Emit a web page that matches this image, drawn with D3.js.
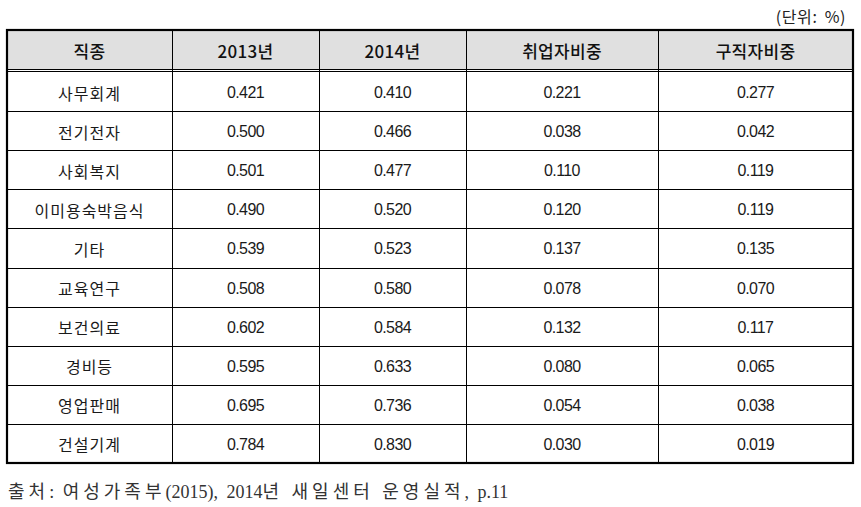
<!DOCTYPE html>
<html><head><meta charset="utf-8">
<script src="https://cdn.jsdelivr.net/npm/d3@7"></script>
<style>
body{margin:0;background:#fff;}
svg{display:block;}
</style></head>
<body>
<svg id="c" width="861" height="507"></svg>
<script>
const headers = ["직종", "2013년", "2014년", "취업자비중", "구직자비중"];
const categories = ["사무회계","전기전자","사회복지","이미용숙박음식","기타","교육연구","보건의료","경비등","영업판매","건설기계"];
const v2013 = ["0.421","0.500","0.501","0.490","0.539","0.508","0.602","0.595","0.695","0.784"];
const v2014 = ["0.410","0.466","0.477","0.520","0.523","0.580","0.584","0.633","0.736","0.830"];
const empShare = ["0.221","0.038","0.110","0.120","0.137","0.078","0.132","0.080","0.054","0.030"];
const seekShare = ["0.277","0.042","0.119","0.119","0.135","0.070","0.117","0.065","0.038","0.019"];
const unitLabel = "(단위: %)";
const sourceNote = "출처: 여성가족부(2015), 2014년 새일센터 운영실적, p.11";

const svg = d3.select("#c");
const colEdges = [7, 172, 319, 466, 658, 853];
const tableTop = 30, headBottom = 71, tableBottom = 463;
const sansKR = "'Noto Sans CJK KR', 'Liberation Sans', sans-serif";

const y = d3.scaleBand().domain(d3.range(categories.length)).range([headBottom+1, tableBottom]);
const colCenter = i => (colEdges[i] + colEdges[i+1]) / 2;

// header background
svg.append("rect").attr("x", colEdges[0]).attr("y", tableTop)
  .attr("width", colEdges[5]-colEdges[0]).attr("height", headBottom - 1 - tableTop)
  .attr("fill", "#e0e0e0");

// horizontal row lines
svg.selectAll("line.row").data(d3.range(1, categories.length)).join("line")
  .attr("x1", colEdges[0]).attr("x2", colEdges[5])
  .attr("y1", d => Math.round(y(d)) + 0.5).attr("y2", d => Math.round(y(d)) + 0.5)
  .attr("stroke", "#000").attr("stroke-width", 1);

// double line under header
[headBottom - 1.5, headBottom + 0.5].forEach(yy => {
  svg.append("line").attr("x1", colEdges[0]).attr("x2", colEdges[5])
    .attr("y1", yy).attr("y2", yy).attr("stroke", "#000").attr("stroke-width", 1);
});

// vertical inner lines
svg.selectAll("line.col").data(colEdges.slice(1, 5)).join("line")
  .attr("x1", d => d + 0.5).attr("x2", d => d + 0.5)
  .attr("y1", tableTop).attr("y2", tableBottom)
  .attr("stroke", "#000").attr("stroke-width", 1);

// outer border
svg.append("rect").attr("x", colEdges[0]).attr("y", tableTop)
  .attr("width", colEdges[5]-colEdges[0]).attr("height", tableBottom-tableTop)
  .attr("fill", "none").attr("stroke", "#000").attr("stroke-width", 2.2);

// header text
svg.selectAll("text.h").data(headers).join("text")
  .attr("x", (d,i) => colCenter(i)).attr("y", (tableTop + headBottom)/2)
  .attr("text-anchor", "middle").attr("dominant-baseline", "central")
  .attr("font-family", sansKR).attr("font-size", 17).attr("font-weight", 500)
  .attr("letter-spacing", 0.3)
  .attr("fill", "#111").text(d => d);

// body
const columns = [categories, v2013, v2014, empShare, seekShare];
columns.forEach((col, ci) => {
  svg.selectAll("text.c" + ci).data(col).join("text")
    .attr("x", colCenter(ci)).attr("y", (d,i) => y(i) + y.bandwidth()/2 + 1)
    .attr("text-anchor", "middle").attr("dominant-baseline", "central")
    .attr("font-family", ci === 0 ? sansKR : "'Liberation Sans', Arial, sans-serif")
    .attr("font-size", 16)
    .attr("letter-spacing", ci === 0 ? 1 : -0.6)
    .attr("fill", "#1a1a1a").text(d => d);
});

// unit label
svg.append("text").attr("x", 846).attr("y", 16)
  .attr("text-anchor", "end").attr("dominant-baseline", "central")
  .attr("font-family", sansKR).attr("font-size", 16).attr("fill", "#222")
  .attr("letter-spacing", 0.6).attr("word-spacing", 3)
  .text(unitLabel);

// source note: Hangul runs spaced wider, Latin runs tight
const runs = sourceNote.match(/[\uAC00-\uD7A3]+|[^\uAC00-\uD7A3]+/g);
const note = svg.append("text").attr("x", 8).attr("y", 492)
  .attr("dominant-baseline", "central")
  .attr("font-family", "'Liberation Serif', 'Noto Sans CJK KR', serif")
  .attr("font-size", 18).attr("fill", "#333");
note.selectAll("tspan").data(runs).join("tspan")
  .attr("letter-spacing", d => /[\uAC00-\uD7A3]/.test(d) ? 4 : 0)
  .attr("word-spacing", 4)
  .text(d => d);
</script>
</body></html>
